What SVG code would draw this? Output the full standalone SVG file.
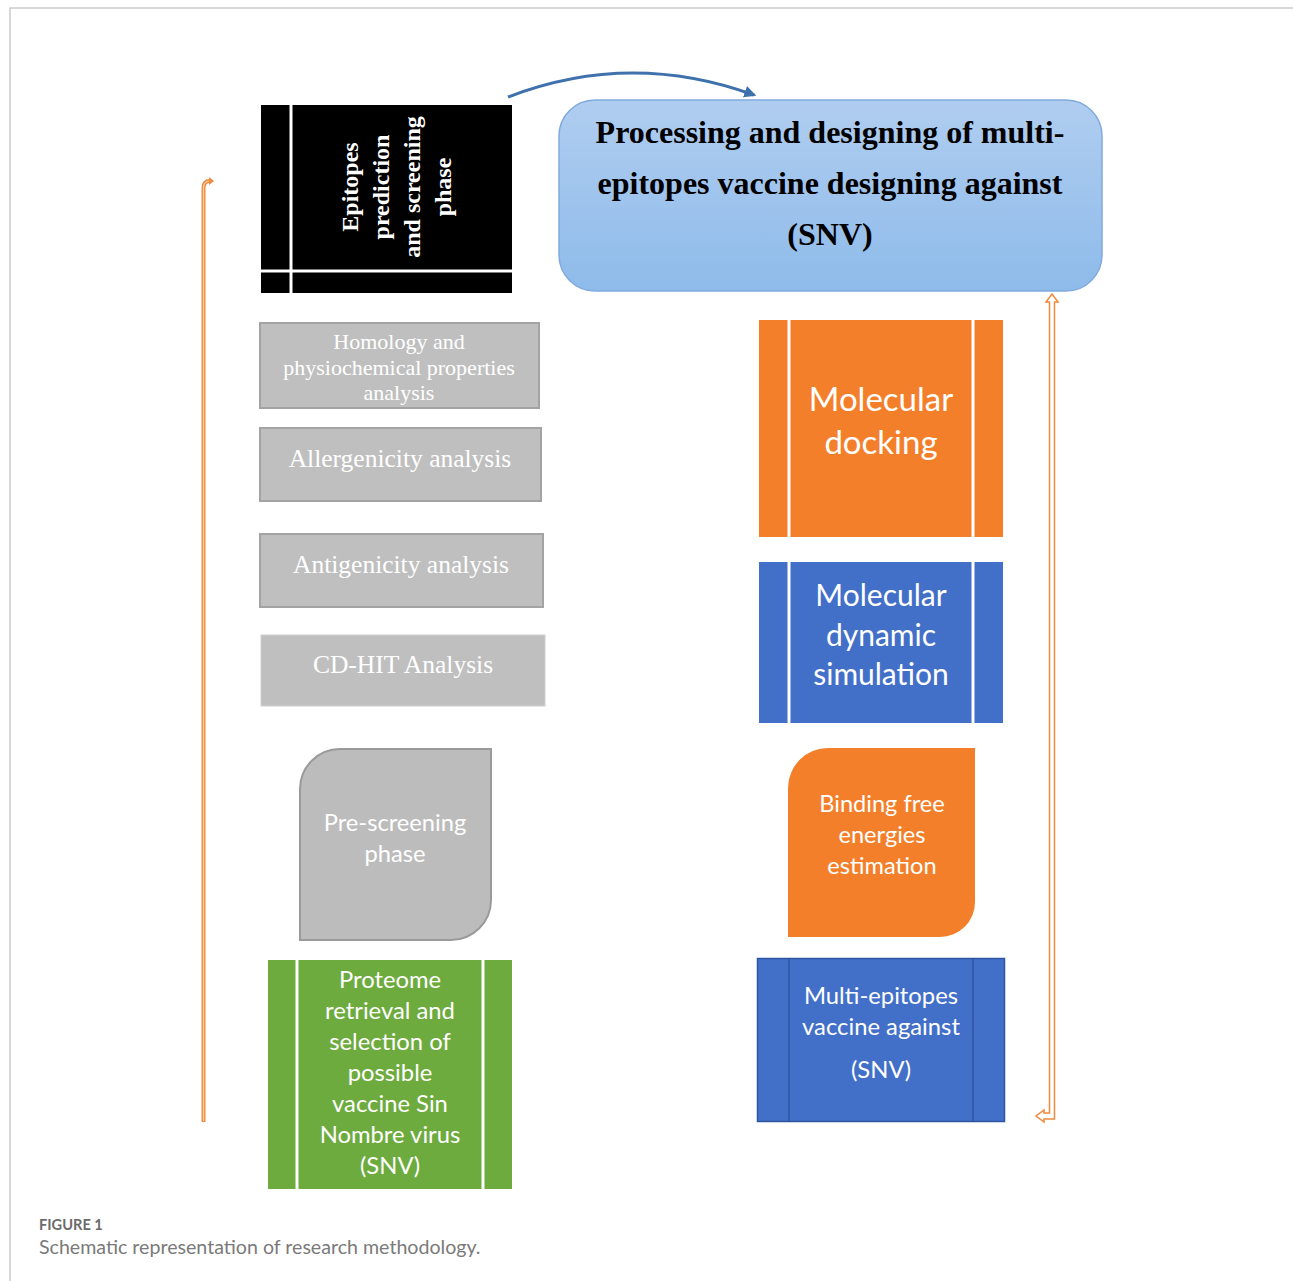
<svg xmlns="http://www.w3.org/2000/svg" width="1293" height="1281" viewBox="0 0 1293 1281">
<defs>
<linearGradient id="gb" x1="0" y1="0" x2="0" y2="1">
<stop offset="0" stop-color="#b0cdf0"/>
<stop offset="1" stop-color="#8ebbea"/>
</linearGradient>
<marker id="ah" viewBox="0 0 10 10" refX="8" refY="5" markerWidth="4" markerHeight="4" orient="auto" markerUnits="strokeWidth">
<path d="M0,0 L10,5 L0,10 Z" fill="#3f72ac"/>
</marker>
</defs>
<style>
.serif{font-family:"Liberation Serif","Times New Roman",serif;}
.sans{font-family:Lato,"Open Sans","Liberation Sans",sans-serif;}
.gray{fill:#bfbfbf;stroke:#a3a3a3;stroke-width:2;}
.wt{fill:#ffffff;}
.wl{stroke:#ffffff;stroke-width:3;}
.org{fill:#f47f2a;}
.blu{fill:#4270c8;}
</style>
<rect width="1293" height="1281" fill="#ffffff"/>
<path d="M10,1281 L10,8 L1293,8" fill="none" stroke="#cccccc" stroke-width="1.5"/>

<g id="connectors">
<path d="M508,97 Q630,50 754,95" fill="none" stroke="#3f72ac" stroke-width="3" marker-end="url(#ah)"/>
<path d="M203.5,1122 L203.5,188 Q203.5,181 210,181 L211,181" fill="none" stroke="#f08a3c" stroke-width="4"/>
<path d="M203.5,1121 L203.5,188 Q203.5,181 210,181" fill="none" stroke="#fbd3b3" stroke-width="1.2"/>
<path d="M209,177 L214,181 L209,185 Z" fill="#f08a3c"/>
<path d="M1052,294 L1058,302 L1054.5,302 L1054.5,1119 L1044,1119 L1044,1122 L1036,1116 L1044,1110 L1044,1113 L1049.5,1113 L1049.5,302 L1046,302 Z" fill="#ffffff" stroke="#f08a3c" stroke-width="1.5" stroke-linejoin="miter"/>
</g>

<g id="epitopes-phase">
<rect x="261" y="105" width="251" height="188" fill="#000000"/>
<line x1="291" y1="105" x2="291" y2="293" class="wl" stroke-width="2.5"/>
<line x1="261" y1="271" x2="512" y2="271" class="wl" stroke-width="2.5"/>
<g class="serif wt" font-size="24" font-weight="bold" text-anchor="middle">
<text transform="translate(358,187) rotate(-90)">Epitopes</text>
<text transform="translate(389,187) rotate(-90)">prediction</text>
<text transform="translate(420,187) rotate(-90)">and screening</text>
<text transform="translate(451,187) rotate(-90)">phase</text>
</g>
</g>

<g id="title">
<rect x="559" y="100" width="543" height="191" rx="36" fill="url(#gb)" stroke="#80aade" stroke-width="1.5"/>
<g class="serif" font-size="32" font-weight="bold" text-anchor="middle" fill="#000000">
<text x="830" y="143">Processing and designing of multi-</text>
<text x="830" y="194">epitopes vaccine designing against</text>
<text x="830" y="245">(SNV)</text>
</g>
</g>

<g id="homology">
<rect x="260" y="323" width="279" height="85" class="gray"/>
<g class="serif wt" font-size="22" text-anchor="middle">
<text x="399" y="349">Homology and</text>
<text x="399" y="375">physiochemical properties</text>
<text x="399" y="400">analysis</text>
</g>
</g>

<g id="allergenicity">
<rect x="260" y="428" width="281" height="73" class="gray"/>
<text x="400" y="467" class="serif wt" font-size="25.5" text-anchor="middle">Allergenicity analysis</text>
</g>

<g id="antigenicity">
<rect x="260" y="534" width="283" height="73" class="gray"/>
<text x="401" y="573" class="serif wt" font-size="25.5" text-anchor="middle">Antigenicity analysis</text>
</g>

<g id="cdhit">
<rect x="261" y="635" width="284" height="71" fill="#bfbfbf" stroke="#cfcfcf" stroke-width="1"/>
<text x="403" y="673" class="serif wt" font-size="25.5" text-anchor="middle">CD-HIT Analysis</text>
</g>

<g id="prescreening">
<path d="M340,749 L491,749 L491,900 A40,40 0 0 1 451,940 L300,940 L300,789 A40,40 0 0 1 340,749 Z" fill="#bcbcbc" stroke="#9a9a9a" stroke-width="2"/>
<g class="sans wt" font-size="23.7" text-anchor="middle">
<text x="395" y="831">Pre-screening</text>
<text x="395" y="862">phase</text>
</g>
</g>

<g id="proteome">
<rect x="268" y="960" width="244" height="229" fill="#6dab3e"/>
<line x1="297" y1="960" x2="297" y2="1189" class="wl" stroke-width="2.5"/>
<line x1="483" y1="960" x2="483" y2="1189" class="wl" stroke-width="2.5"/>
<g class="sans wt" font-size="23.8" text-anchor="middle">
<text x="390" y="988">Proteome</text>
<text x="390" y="1019">retrieval and</text>
<text x="390" y="1050">selection of</text>
<text x="390" y="1081">possible</text>
<text x="390" y="1112">vaccine Sin</text>
<text x="390" y="1143">Nombre virus</text>
<text x="390" y="1174">(SNV)</text>
</g>
</g>

<g id="docking">
<rect x="759" y="320" width="244" height="217" class="org"/>
<line x1="789" y1="320" x2="789" y2="537" class="wl" stroke-width="2.5"/>
<line x1="973" y1="320" x2="973" y2="537" class="wl" stroke-width="2.5"/>
<g class="sans wt" font-size="33" text-anchor="middle">
<text x="881" y="411">Molecular</text>
<text x="881" y="454">docking</text>
</g>
</g>

<g id="dynamics">
<rect x="759" y="562" width="244" height="161" class="blu"/>
<line x1="789" y1="562" x2="789" y2="723" class="wl" stroke-width="2.5"/>
<line x1="973" y1="562" x2="973" y2="723" class="wl" stroke-width="2.5"/>
<g class="sans wt" font-size="30" text-anchor="middle">
<text x="881" y="606">Molecular</text>
<text x="881" y="646">dynamic</text>
<text x="881" y="685">simulation</text>
</g>
</g>

<g id="binding">
<path d="M828,748 L975,748 L975,902 A35,35 0 0 1 940,937 L788,937 L788,788 A40,40 0 0 1 828,748 Z" class="org"/>
<g class="sans wt" font-size="23.6" text-anchor="middle">
<text x="882" y="812">Binding free</text>
<text x="882" y="843">energies</text>
<text x="882" y="874">estimation</text>
</g>
</g>

<g id="vaccine">
<rect x="757.5" y="958.5" width="247" height="163" class="blu" stroke="#2f56a3" stroke-width="1.5"/>
<line x1="789" y1="959" x2="789" y2="1121" stroke="#2f56a3" stroke-width="1.5"/>
<line x1="973" y1="959" x2="973" y2="1121" stroke="#2f56a3" stroke-width="1.5"/>
<g class="sans wt" font-size="23.8" text-anchor="middle">
<text x="881" y="1004">Multi-epitopes</text>
<text x="881" y="1035">vaccine against</text>
<text x="881" y="1078">(SNV)</text>
</g>
</g>

<g id="caption">
<text x="39" y="1230" class="sans" font-size="14.6" font-weight="bold" fill="#6b6b6b">FIGURE 1</text>
<text x="39" y="1254" class="sans" font-size="19.6" fill="#7a7a7a">Schematic representation of research methodology.</text>
</g>
</svg>
